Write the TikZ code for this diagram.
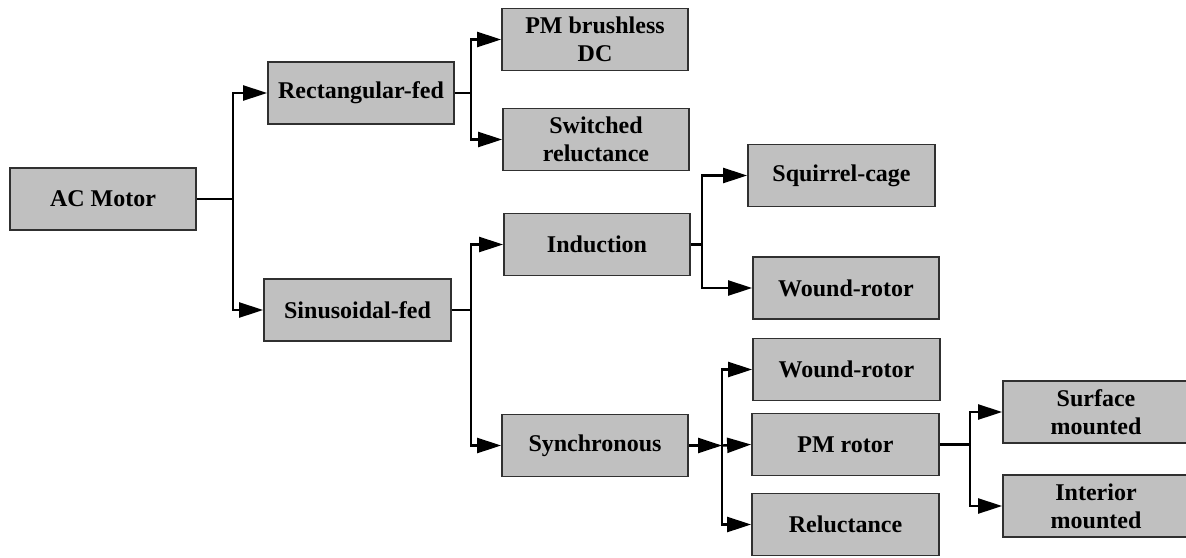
\documentclass[tikz,border=0pt]{standalone}
\usepackage{fontspec}
\setmainfont{Liberation Serif}
\usetikzlibrary{arrows.meta}
\definecolor{boxfill}{HTML}{C0C0C0}
\definecolor{boxline}{HTML}{303030}
\begin{document}
\begin{tikzpicture}[x=1pt,y=1pt,
  mbox/.style={draw=boxline, line width=1.8pt, fill=boxfill, minimum width=186pt, minimum height=62pt,
    inner sep=0pt, align=center, font=\fontsize{24}{28}\selectfont\bfseries},
  conn/.style={line width=2.4pt, black},
  arr/.style={conn, -{Triangle[length=24pt,width=15pt]}}]
\useasboundingbox (0,0) rectangle (1186,-557);
\node[mbox] (ac) at (103,-199) {AC Motor};
\node[mbox] (rect) at (361,-93) {Rectangular-fed};
\node[mbox, minimum width=187pt] (sin) at (357.5,-310) {Sinusoidal-fed};
\node[mbox] (pmbl) at (595,-39.5) {PM brushless\\DC};
\node[mbox] (sw) at (596,-139.5) {Switched\\reluctance};
\node[mbox] (ind) at (597,-244.5) {Induction};
\node[mbox, minimum width=187pt] (sq) at (841.5,-175.5) {Squirrel-cage};
\node[mbox] (wr1) at (846,-288) {Wound-rotor};
\node[mbox] (syn) at (595,-445.5) {Synchronous};
\node[mbox, minimum width=187pt] (wr2) at (846.5,-369.5) {Wound-rotor};
\node[mbox, minimum width=187pt] (pmr) at (845.5,-444.5) {PM rotor};
\node[mbox, minimum width=187pt] (rel) at (845.5,-524.5) {Reluctance};
\node[mbox] (surf) at (1096,-412) {Surface\\mounted};
\node[mbox] (int) at (1096,-506) {Interior\\mounted};
\coordinate (j1) at (233,-199);
\coordinate (j2) at (471,-93);
\coordinate (j3) at (471,-310);
\coordinate (j4) at (702,-244.5);
\coordinate (j5) at (722,-445.5);
\coordinate (j6) at (970,-444.5);
\draw[conn] (ac.east) -- (j1);
\draw[arr] (j1) |- (rect.west);
\draw[arr] (j1) |- (sin.west);
\draw[conn] (rect.east) -- (j2);
\draw[arr] (j2) |- (pmbl.west);
\draw[arr] (j2) |- (sw.west);
\draw[conn] (sin.east) -- (j3);
\draw[arr] (j3) |- (ind.west);
\draw[arr] (j3) |- (syn.west);
\draw[conn] (ind.east) -- (j4);
\draw[arr] (j4) |- (sq.west);
\draw[arr] (j4) |- (wr1.west);
\draw[arr] (syn.east) -- (j5);
\draw[arr] (j5) |- (wr2.west);
\draw[arr] (j5) -- (pmr.west);
\draw[arr] (j5) |- (rel.west);
\draw[conn] (pmr.east) -- (j6);
\draw[arr] (j6) |- (surf.west);
\draw[arr] (j6) |- (int.west);
\end{tikzpicture}
\end{document}
